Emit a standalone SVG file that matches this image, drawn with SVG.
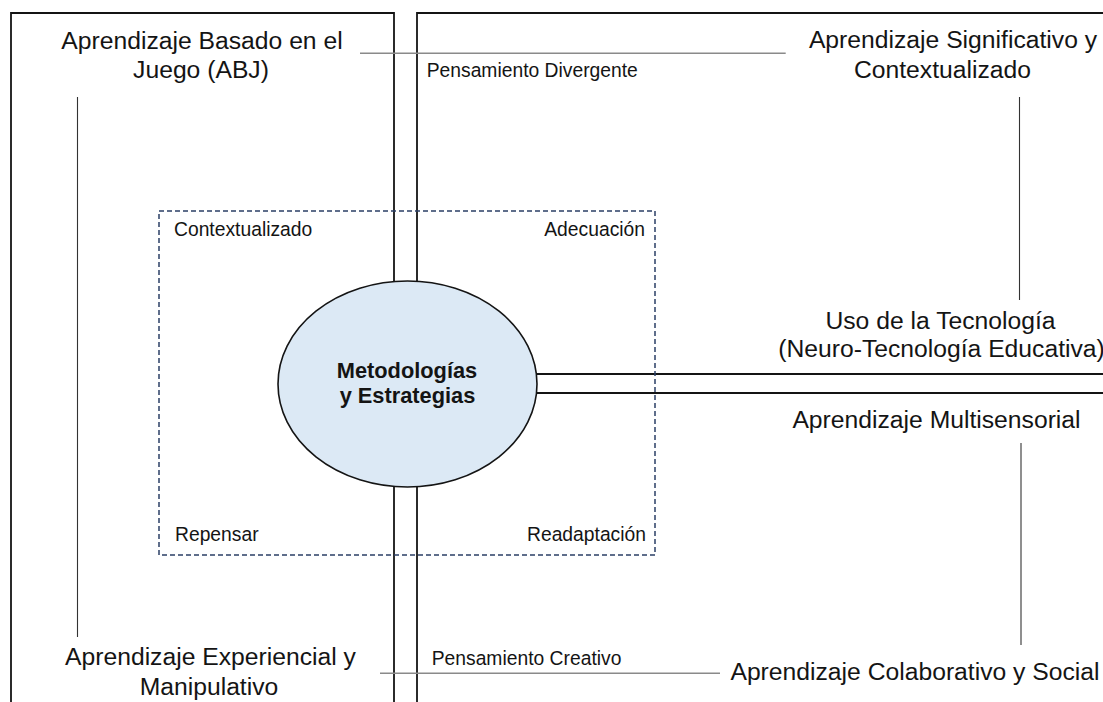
<svg xmlns="http://www.w3.org/2000/svg" width="1103" height="702" viewBox="0 0 1103 702">
<style>
  text { font-family: "Liberation Sans", Arial, sans-serif; fill: #141414; }
  .big { font-size: 24.7px; text-anchor: middle; }
  .small { font-size: 19.3px; }
  .bold { font-size: 21.8px; font-weight: bold; text-anchor: middle; }
  .frame { fill: none; stroke: #141414; stroke-width: 1.8; }
  .gray { fill: none; stroke: #8a8a8a; stroke-width: 1.6; }
  .thin { fill: none; stroke: #333333; stroke-width: 1.1; }
</style>
<rect width="1103" height="702" fill="#ffffff"/>
<g id="connectors">
  <path class="frame" d="M394 384 V13 H11 V702"/>
  <path class="frame" d="M417 384 V13 H1103"/>
  <path class="frame" d="M394 384 V702"/>
  <path class="frame" d="M417 384 V702"/>
  <path class="frame" d="M408 374 H1103"/>
  <path class="frame" d="M408 393 H1103"/>
  <path class="gray" d="M360 53.3 H785.7"/>
  <path class="gray" d="M380 673.3 H720"/>
  <path class="thin" d="M77.5 97 V637"/>
  <path class="thin" d="M1019.5 97 V300"/>
  <path class="thin" d="M1021 443 V645"/>
</g>
<g id="frame-box">
  <rect x="159" y="211" width="496" height="344" fill="none" stroke="#2b3f66" stroke-width="1.5" stroke-dasharray="5 3"/>
</g>
<g id="center">
  <ellipse cx="407.5" cy="384" rx="129.5" ry="103" fill="#dce9f5" stroke="#141414" stroke-width="1.6"/>
  <text class="bold" x="407" y="378">Metodologías</text>
  <text class="bold" x="407.5" y="403">y Estrategias</text>
</g>
<g id="abj">
  <text class="big" x="202" y="48.5">Aprendizaje Basado en el</text>
  <text class="big" x="201" y="78">Juego (ABJ)</text>
</g>
<g id="significativo">
  <text class="big" x="953" y="48">Aprendizaje Significativo y</text>
  <text class="big" x="942.5" y="77.5">Contextualizado</text>
</g>
<g id="tecnologia">
  <text class="big" x="940.5" y="329">Uso de la Tecnología</text>
  <text class="big" x="941.5" y="357">(Neuro-Tecnología Educativa)</text>
</g>
<g id="multisensorial">
  <text class="big" x="936.5" y="428">Aprendizaje Multisensorial</text>
</g>
<g id="colaborativo">
  <text class="big" x="915" y="680">Aprendizaje Colaborativo y Social</text>
</g>
<g id="experiencial">
  <text class="big" x="210.5" y="665">Aprendizaje Experiencial y</text>
  <text class="big" x="209" y="695">Manipulativo</text>
</g>
<g id="divergente">
  <text class="small" x="426.7" y="77.3">Pensamiento Divergente</text>
</g>
<g id="creativo">
  <text class="small" x="431.7" y="665">Pensamiento Creativo</text>
</g>
<g id="corner-labels">
  <text class="small" x="174" y="236">Contextualizado</text>
  <text class="small" x="645" y="236" text-anchor="end">Adecuación</text>
  <text class="small" x="175" y="541">Repensar</text>
  <text class="small" x="646" y="541" text-anchor="end">Readaptación</text>
</g>
</svg>
